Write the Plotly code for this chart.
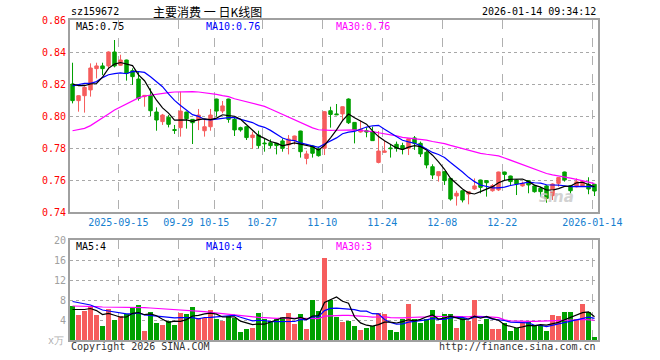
import plotly.graph_objects as go
import pandas as pd

# ---------------- data ----------------
open_ = [0.8200, 0.8096, 0.8127, 0.8163, 0.8296, 0.8313, 0.8313, 0.8400, 0.8317, 0.8350,
         0.8283, 0.8231, 0.8121, 0.8129, 0.8025, 0.7965, 0.7992, 0.7915, 0.7927, 0.8025,
         0.7979, 0.7975, 0.7908, 0.7933, 0.8106, 0.8031, 0.8106, 0.7979, 0.7927, 0.7933,
         0.7865, 0.7881, 0.7831, 0.7833, 0.7829, 0.7844, 0.7819, 0.7846, 0.7906, 0.7735,
         0.7813, 0.7794, 0.7798, 0.8033, 0.8013, 0.8013, 0.8106, 0.7960, 0.7900, 0.7908,
         0.7902, 0.7710, 0.7773, 0.7800, 0.7823, 0.7815, 0.7798, 0.7863, 0.7829, 0.7773,
         0.7683, 0.7627, 0.7652, 0.7610, 0.7500, 0.7533, 0.7512, 0.7544, 0.7600, 0.7596,
         0.7533, 0.7538, 0.7650, 0.7625, 0.7600, 0.7563, 0.7596, 0.7563, 0.7548, 0.7563,
         0.7502, 0.7579, 0.7650, 0.7565, 0.7558, 0.7563, 0.7573, 0.7573]
high = [0.8333, 0.8129, 0.8185, 0.8329, 0.8333, 0.8333, 0.8404, 0.8475, 0.8383, 0.8352,
        0.8298, 0.8277, 0.8129, 0.8173, 0.8054, 0.8013, 0.8006, 0.7944, 0.8152, 0.8027,
        0.7981, 0.8044, 0.7975, 0.8044, 0.8108, 0.8094, 0.8108, 0.7992, 0.7933, 0.7935,
        0.7902, 0.7908, 0.7860, 0.7854, 0.7831, 0.7860, 0.7881, 0.7877, 0.7908, 0.7783,
        0.7819, 0.7808, 0.8031, 0.8058, 0.8075, 0.8060, 0.8110, 0.7962, 0.7971, 0.7929,
        0.7933, 0.7906, 0.7844, 0.7825, 0.7840, 0.7833, 0.7858, 0.7875, 0.7840, 0.7781,
        0.7698, 0.7652, 0.7654, 0.7612, 0.7533, 0.7535, 0.7527, 0.7610, 0.7602, 0.7598,
        0.7575, 0.7652, 0.7652, 0.7627, 0.7604, 0.7590, 0.7598, 0.7569, 0.7558, 0.7569,
        0.7579, 0.7615, 0.7652, 0.7569, 0.7610, 0.7596, 0.7617, 0.7575]
low = [0.8079, 0.8027, 0.8021, 0.8121, 0.8235, 0.8256, 0.8292, 0.8304, 0.8313, 0.8221,
       0.8194, 0.8096, 0.8058, 0.8000, 0.7908, 0.7944, 0.7929, 0.7888, 0.7871, 0.7921,
       0.7825, 0.7912, 0.7871, 0.7908, 0.7996, 0.8017, 0.7958, 0.7875, 0.7902, 0.7850,
       0.7796, 0.7798, 0.7777, 0.7798, 0.7760, 0.7777, 0.7760, 0.7821, 0.7740, 0.7698,
       0.7740, 0.7746, 0.7756, 0.7927, 0.8006, 0.7975, 0.7950, 0.7829, 0.7896, 0.7867,
       0.7846, 0.7704, 0.7771, 0.7740, 0.7777, 0.7760, 0.7756, 0.7788, 0.7744, 0.7673,
       0.7606, 0.7590, 0.7569, 0.7471, 0.7440, 0.7460, 0.7448, 0.7538, 0.7517, 0.7496,
       0.7527, 0.7531, 0.7596, 0.7569, 0.7506, 0.7558, 0.7517, 0.7521, 0.7496, 0.7458,
       0.7475, 0.7558, 0.7590, 0.7515, 0.7554, 0.7556, 0.7511, 0.7500]
close = [0.8096, 0.8127, 0.8179, 0.8300, 0.8313, 0.8296, 0.8400, 0.8313, 0.8350, 0.8267,
         0.8246, 0.8110, 0.8129, 0.8033, 0.7975, 0.8006, 0.7948, 0.7910, 0.8031, 0.7983,
         0.7958, 0.8006, 0.7933, 0.8006, 0.8031, 0.8063, 0.7979, 0.7913, 0.7913, 0.7865,
         0.7881, 0.7815, 0.7827, 0.7815, 0.7815, 0.7798, 0.7856, 0.7875, 0.7777, 0.7763,
         0.7767, 0.7752, 0.8027, 0.8010, 0.8008, 0.8058, 0.7958, 0.7913, 0.7917, 0.7900,
         0.7846, 0.7781, 0.7781, 0.7796, 0.7798, 0.7794, 0.7858, 0.7829, 0.7763, 0.7694,
         0.7631, 0.7652, 0.7596, 0.7481, 0.7517, 0.7475, 0.7527, 0.7563, 0.7554, 0.7583,
         0.7565, 0.7650, 0.7635, 0.7590, 0.7575, 0.7579, 0.7569, 0.7527, 0.7527, 0.7485,
         0.7575, 0.7615, 0.7600, 0.7533, 0.7589, 0.7592, 0.7544, 0.7531]
volume = [6.8, 5.0, 5.8, 6.8, 5.0, 2.8, 6.2, 4.0, 4.8, 5.2,
          6.5, 7.0, 1.8, 5.6, 3.4, 3.0, 3.8, 3.0, 5.4, 5.2,
          6.6, 4.5, 4.5, 6.0, 4.2, 3.8, 4.8, 4.4, 1.6, 2.2,
          2.4, 5.4, 4.2, 3.8, 4.2, 4.6, 5.4, 3.2, 5.2, 2.2,
          8.0, 5.8, 16.4, 8.1, 4.7, 3.7, 3.9, 2.8, 2.0, 2.4,
          2.8, 5.4, 5.2, 2.0, 1.6, 4.2, 7.2, 4.2, 3.4, 4.2,
          6.0, 3.2, 5.2, 5.2, 2.4, 4.4, 3.8, 8.0, 3.2, 4.2,
          2.2, 2.2, 3.4, 1.8, 2.4, 3.4, 3.6, 3.0, 3.0, 1.8,
          5.0, 4.8, 5.6, 5.6, 4.2, 7.2, 5.6, 0.6]

# moving-average values at the left edge (window reaches before the shown period)
ma5_head = [0.820, 0.819, 0.819, 0.820]
ma10_head = [0.8188, 0.8194, 0.8204, 0.8204, 0.8215, 0.8240, 0.8258, 0.8265, 0.8269]
ma30_head = [0.7908, 0.7915, 0.7923, 0.7940, 0.7963, 0.7988, 0.8013, 0.8038, 0.8058, 0.8077,
             0.8096, 0.8113, 0.8125, 0.8131, 0.8138, 0.8142, 0.8146, 0.8150, 0.8152, 0.8152,
             0.8152, 0.8150, 0.8146, 0.8142, 0.8135, 0.8127, 0.8121, 0.8108, 0.8098]
vma5_head = [6.1, 6.1, 6.1, 6.3]
vma10_head = [7.7, 7.5, 7.3, 7.0, 6.5, 6.0, 5.8, 5.6, 5.3]
vma30_head = [6.8, 6.8, 6.73, 6.67, 6.67, 6.6, 6.6, 6.6, 6.53, 6.53,
              6.53, 6.47, 6.47, 6.4, 6.33, 6.27, 6.2, 6.13, 6.07, 6.0,
              5.93, 5.8, 5.67, 5.53, 5.4, 5.27, 5.13, 5.0, 4.87]

tick_slots = [8, 18, 24, 32, 42, 52, 62, 72, 87]
tick_labels = ["2025-09-15", "09-29", "10-15", "10-27", "11-10", "11-24", "12-08", "12-22", "2026-01-14"]
price_ticks = [0.74, 0.76, 0.78, 0.80, 0.82, 0.84, 0.86]
vol_ticks = [4, 8, 12, 16, 20]

# ---------------- derived ----------------
idx = list(range(len(close)))


def moving(values, n, head):
    s = pd.Series(values).rolling(n).mean().tolist()
    return head + s[len(head):]


ma5 = moving(close, 5, ma5_head)
ma10 = moving(close, 10, ma10_head)
ma30 = moving(close, 30, ma30_head)
vma5 = moving(volume, 5, vma5_head)
vma10 = moving(volume, 10, vma10_head)
vma30 = moving(volume, 30, vma30_head)

RED = "#f65d5d"
GREEN = "#00a000"
vol_colors = [RED if c >= o else GREEN for o, c in zip(open_, close)]

W, H = 660, 360
MONO = "DejaVu Sans Mono"


def px(x):
    return x / W


def py(y):
    return 1 - y / H


fig = go.Figure()
fig.add_trace(go.Candlestick(
    x=idx, open=open_, high=high, low=low, close=close,
    increasing=dict(line=dict(color=RED, width=1), fillcolor=RED),
    decreasing=dict(line=dict(color=GREEN, width=1), fillcolor=GREEN),
    whiskerwidth=0, xaxis="x", yaxis="y", showlegend=False, hoverinfo="skip"))
for ser, col in [(ma30, "#ff00ff"), (ma10, "#0000ff"), (ma5, "#000000")]:
    fig.add_trace(go.Scatter(x=idx, y=ser, mode="lines", line=dict(color=col, width=1.2),
                             xaxis="x", yaxis="y", showlegend=False, hoverinfo="skip"))

fig.add_trace(go.Bar(x=idx, y=volume, marker=dict(color=vol_colors, line=dict(width=0)),
                     width=0.8, xaxis="x2", yaxis="y2", showlegend=False, hoverinfo="skip"))
for ser, col in [(vma30, "#ff00ff"), (vma10, "#0000ff"), (vma5, "#000000")]:
    fig.add_trace(go.Scatter(x=idx, y=ser, mode="lines", line=dict(color=col, width=1.2),
                             xaxis="x2", yaxis="y2", showlegend=False, hoverinfo="skip"))

xdom = [px(70), px(598)]
xr = [-0.42, len(close) - 0.42]
grid_x = [s - 0.37 for s in tick_slots]
common_x = dict(domain=xdom, range=xr, showgrid=True, gridcolor="#b0b0b0", griddash="dash",
                gridwidth=1, zeroline=False, showline=True, mirror=True, linecolor="#a0a0a0",
                linewidth=2, ticks="", tickvals=grid_x, fixedrange=True)

fig.update_layout(
    width=W, height=H, margin=dict(l=0, r=0, t=0, b=0, autoexpand=False),
    paper_bgcolor="white", plot_bgcolor="white", boxgap=0.18, bargap=0,
    xaxis=dict(**common_x, anchor="y", ticktext=tick_labels,
               tickfont=dict(family=MONO, size=10, color="#1580d0"),
               rangeslider=dict(visible=False)),
    yaxis=dict(domain=[py(212), py(20)], range=[0.74, 0.86], tickvals=price_ticks,
               ticktext=[f"{v:.2f}" for v in price_ticks],
               tickfont=dict(family=MONO, size=10, color="#ff0000"),
               showgrid=True, gridcolor="#a8a8a8", griddash="dot", gridwidth=1,
               zeroline=False, showline=True, mirror=True, linecolor="#a0a0a0", linewidth=2,
               ticks="", anchor="x", fixedrange=True),
    xaxis2=dict(**common_x, anchor="y2", matches="x", showticklabels=False),
    yaxis2=dict(domain=[py(340), py(240)], range=[0, 20], tickvals=vol_ticks,
                ticktext=[str(v) for v in vol_ticks],
                tickfont=dict(family=MONO, size=10, color="#a0a0a0"),
                showgrid=True, gridcolor="#a8a8a8", griddash="dot", gridwidth=1,
                zeroline=False, showline=True, mirror=True, linecolor="#a0a0a0", linewidth=2,
                ticks="", anchor="x2", fixedrange=True),
)


def note(text, x, y, color="#000000", size=10, family=MONO, xanchor="left"):
    fig.add_annotation(text=text, x=px(x), y=py(y), xref="paper", yref="paper",
                       xanchor=xanchor, yanchor="middle", showarrow=False,
                       font=dict(family=family, size=size, color=color))


note("sz159672", 69, 12)
note("主要消费 一 日K线图", 151, 11.5, size=12, family="Noto Sans CJK SC")
note("2026-01-14 09:34:12", 598, 12, xanchor="right")
note("MA5:0.75", 74, 27)
note("MA10:0.76", 204, 27, color="#0000ff")
note("MA30:0.76", 334, 27, color="#ff00ff")
note("MA5:4", 74, 246)
note("MA10:4", 204, 246, color="#0000ff")
note("MA30:3", 334, 246, color="#ff00ff")
note("x万", 66, 340, color="#b0b0b0", size=10, xanchor="right")
note("Copyright 2026 SINA.COM", 69, 346, color="#333333")
note("http://finance.sina.com.cn", 598, 346, color="#333333", xanchor="right")
fig.add_annotation(text="<b><i>sina</i></b>", x=px(576), y=py(197), xref="paper", yref="paper",
                   showarrow=False, font=dict(family="DejaVu Sans", size=15, color="#c8c8c8"),
                   opacity=0.8)

fig.write_html("out.html", config={"responsive": False, "displayModeBar": False},
               post_script="document.body.style.margin='0';document.body.style.overflow='hidden';")
